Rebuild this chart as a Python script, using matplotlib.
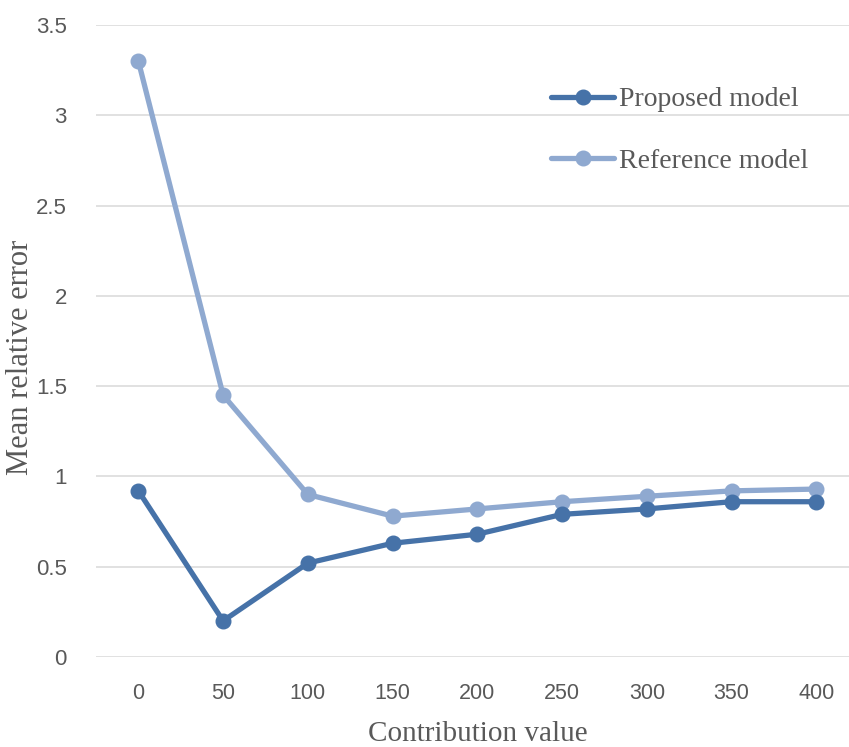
import matplotlib
matplotlib.use("Agg")
import matplotlib.pyplot as plt
import numpy as np

# ---------------------------------------------------------------------------
# Data
# ---------------------------------------------------------------------------
contribution = ["0", "50", "100", "150", "200", "250", "300", "350", "400"]
proposed = [0.92, 0.20, 0.52, 0.63, 0.68, 0.79, 0.82, 0.86, 0.86]
reference = [3.30, 1.45, 0.90, 0.78, 0.82, 0.86, 0.89, 0.92, 0.93]
y_ticks = [0, 0.5, 1, 1.5, 2, 2.5, 3, 3.5]
y_tick_labels = ["0", "0.5", "1", "1.5", "2", "2.5", "3", "3.5"]

DARK = "#4672a8"
LIGHT = "#8fa9d0"
GREY = "#595959"
SERIF = ["Liberation Serif", "DejaVu Serif"]
SANS = ["Liberation Sans", "DejaVu Sans"]

W, H = 849, 747
fig = plt.figure(figsize=(W / 100, H / 100), dpi=100)
fig.patch.set_facecolor("white")

# plot area in pixels: left 96, bottom gridline at y=657, top at y=25
left, bottom_px, top_px = 96, 657, 25
width_px = 762.75
ax = fig.add_axes([left / W, (H - bottom_px) / H, width_px / W, (bottom_px - top_px) / H])

x = np.arange(len(contribution))
ax.plot(x, reference, color=LIGHT, lw=3.8, marker="o", ms=10.5,
        solid_capstyle="round", label="Reference model", zorder=3)
ax.plot(x, proposed, color=DARK, lw=3.8, marker="o", ms=10.5,
        solid_capstyle="round", label="Proposed model", zorder=4)

ax.set_xlim(-0.5, len(contribution) - 0.5)
ax.set_ylim(0, 3.5)
ax.set_xticks(x)
ax.set_xticklabels(contribution, family=SANS, fontsize=15.5, color=GREY)
ax.set_yticks(y_ticks)
ax.set_yticklabels(y_tick_labels, family=SANS, fontsize=16, color=GREY)
ax.tick_params(length=0)
ax.tick_params(axis="x", pad=19)
ax.tick_params(axis="y", pad=21)

ax.grid(axis="y", color="#d9d9d9", lw=1.1)
ax.set_axisbelow(True)
for s in ax.spines.values():
    s.set_visible(False)

ax.set_xlabel("Contribution value", family=SERIF, fontsize=21, color=GREY,
              va="center", ha="center")
ax.xaxis.set_label_coords(0.5008, -0.1215)
ax.set_ylabel("Mean relative error", family=SERIF, fontsize=22, color=GREY,
              va="center", ha="center")
ax.yaxis.set_label_coords(-0.099, 0.474)

handles, labels = ax.get_legend_handles_labels()
leg = fig.legend(handles[::-1], labels[::-1], loc="center left",
                 bbox_to_anchor=(551 / W, 1 - 130.5 / H), frameon=False,
                 prop={"family": SERIF, "size": 20}, handlelength=2.27,
                 handletextpad=0.18, labelspacing=1.3, borderpad=0,
                 borderaxespad=0)
for t in leg.get_texts():
    t.set_color(GREY)

fig.savefig("out.png", dpi=100, facecolor="white")
